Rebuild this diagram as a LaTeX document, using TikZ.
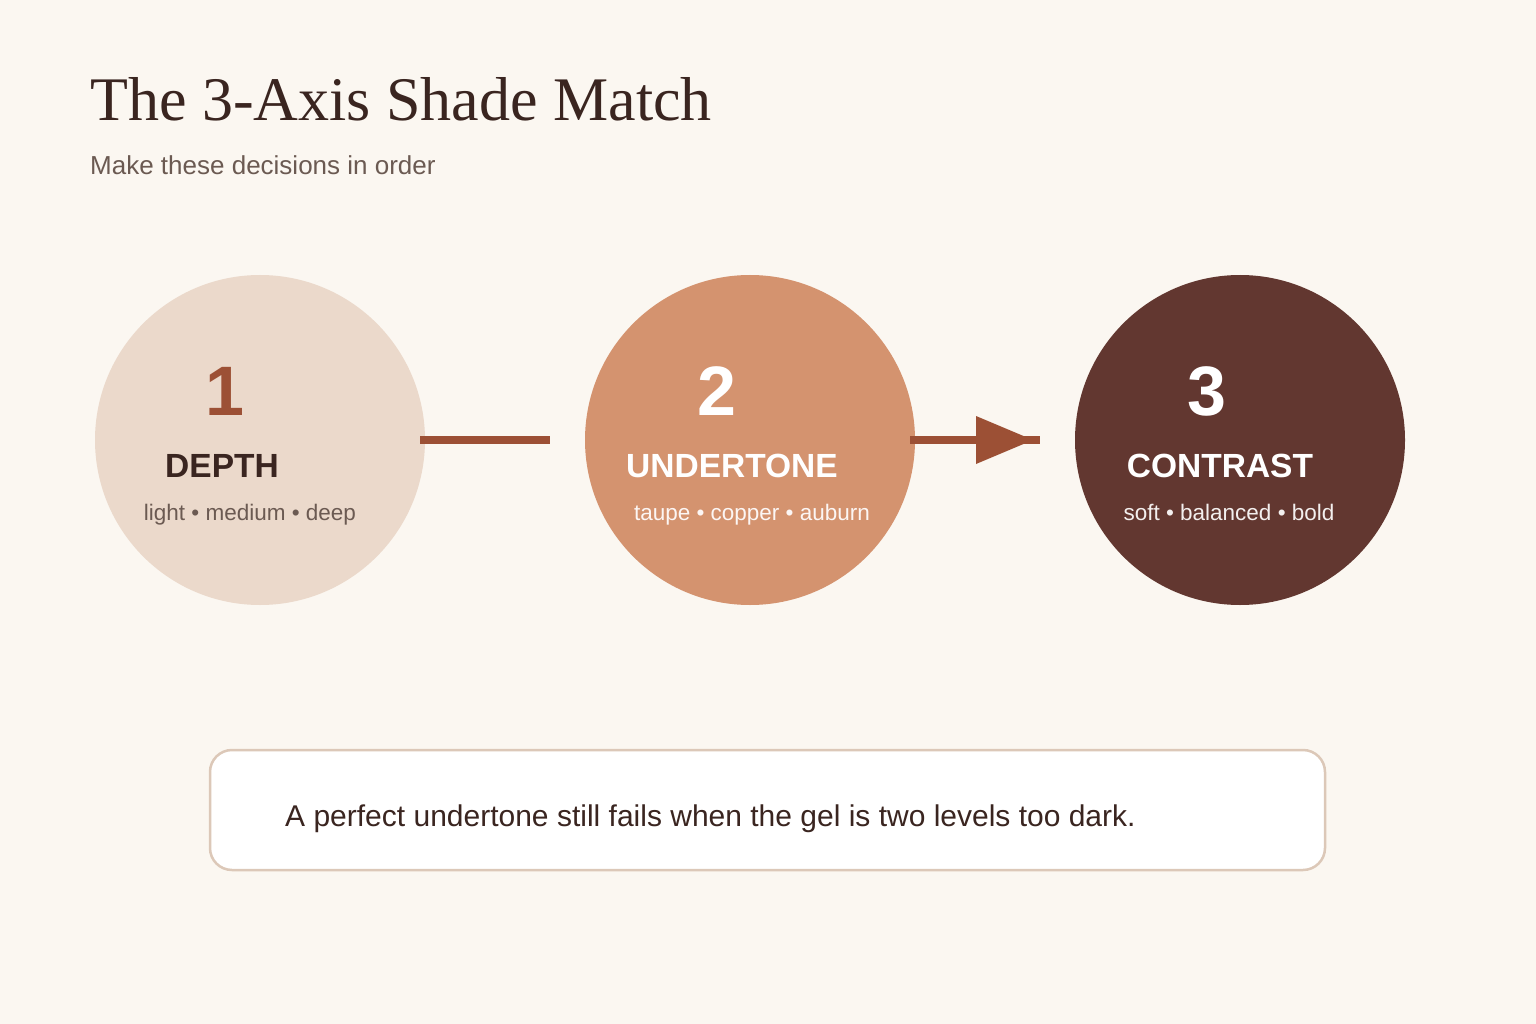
\documentclass[tikz,border=0pt]{standalone}
\usepackage{fontspec}
\setmainfont{Liberation Sans}
\newfontfamily\titlefont{Liberation Serif}
\definecolor{bg}{HTML}{FBF7F1}
\definecolor{cA}{HTML}{EBD9CB}
\definecolor{cB}{HTML}{D4936F}
\definecolor{cC}{HTML}{623730}
\definecolor{rust}{HTML}{9C5035}
\definecolor{dark}{HTML}{3A2520}
\definecolor{muted}{HTML}{6B5A52}
\definecolor{boxline}{HTML}{DCC8B8}
\tikzset{
  disc/.style={circle, minimum size=330pt, inner sep=0pt, draw=none},
  numtxt/.style={anchor=base, font=\fontsize{70}{70}\selectfont\bfseries},
  headtxt/.style={anchor=base, font=\fontsize{33.5}{34}\selectfont\bfseries},
  subtxt/.style={anchor=base, font=\fontsize{22.5}{24}\selectfont},
  conn/.style={line width=8pt, rust},
}
\begin{document}
\begin{tikzpicture}[x=1pt,y=-1pt]
\fill[bg] (0,0) rectangle (1536,1024);
\useasboundingbox (0,0) rectangle (1536,1024);

\node[anchor=base west, text=dark, inner sep=0pt, font=\titlefont\fontsize{62}{62}\selectfont] (title) at (90,121) {The 3-Axis Shade Match};
\node[anchor=base west, text=muted, inner sep=0pt, font=\fontsize{26}{28}\selectfont] (subtitle) at (90,175) {Make these decisions in order};

\node[disc, fill=cA] (c1) at (260,440) {};
\node[disc, fill=cB] (c2) at (750,440) {};
\node[disc, fill=cC] (c3) at (1240,440) {};

\coordinate (a1) at (420,440);
\coordinate (b1) at (550,440);
\coordinate (a2) at (910,440);
\coordinate (b2) at (1040,440);
\coordinate (t1) at (976,416);
\coordinate (t2) at (1033,440);
\coordinate (t3) at (976,464);
\draw[conn] (a1) -- (b1);
\draw[conn] (a2) -- (b2);
\fill[rust] (t1) -- (t2) -- (t3) -- cycle;

\node[numtxt, text=rust] (n1) at (225,415) {1};
\node[headtxt, text=dark] (h1) at (222,477) {DEPTH};
\node[subtxt, text=muted] (s1) at (250,520) {light • medium • deep};

\node[numtxt, text=white] (n2) at (717,415) {2};
\node[headtxt, text=white] (h2) at (732,477) {UNDERTONE};
\node[subtxt, text=white!92!cB] (s2) at (752,520) {taupe • copper • auburn};

\node[numtxt, text=white] (n3) at (1207,415) {3};
\node[headtxt, text=white] (h3) at (1220,477) {CONTRAST};
\node[subtxt, text=white!92!cC] (s3) at (1229,520) {soft • balanced • bold};

\node[draw=boxline, line width=2.5pt, fill=white, rounded corners=22pt, minimum width=1115pt, minimum height=120pt, inner sep=0pt] (box) at (767.5,810) {};
\node[anchor=base west, text=dark, inner sep=0pt, font=\fontsize{30}{32}\selectfont] (note) at (285,826) {A perfect undertone still fails when the gel is two levels too dark.};
\end{tikzpicture}
\end{document}
